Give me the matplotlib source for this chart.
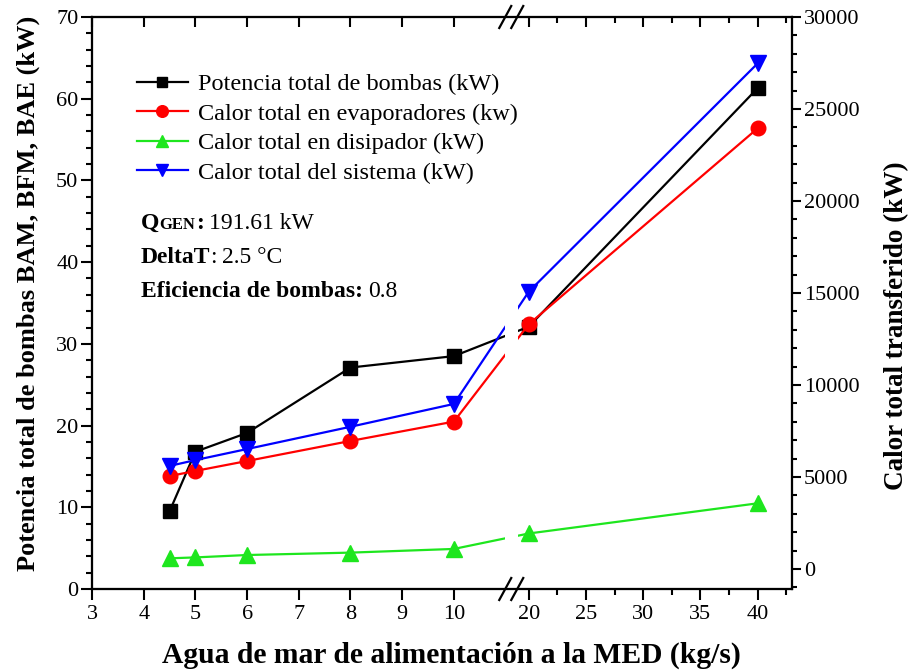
import matplotlib
matplotlib.use("Agg")
import numpy as np
import matplotlib.pyplot as plt
import matplotlib.transforms as mtransforms
from matplotlib.scale import FuncScale
from matplotlib.ticker import FixedLocator, MultipleLocator, NullFormatter
from matplotlib.patches import Rectangle

plt.rcParams["font.family"] = ["Liberation Serif", "DejaVu Serif"]

# ---- data -------------------------------------------------------------
flow = [4.5, 5, 6, 8, 10, 20, 40]                       # kg/s
pump_power = [9.5, 16.8, 19.1, 27.1, 28.5, 32.1, 61.3]  # kW (left axis)
heat_evap = [5050, 5330, 5870, 6960, 8010, 13300, 23950]  # kW (right axis)
heat_sink = [580, 630, 760, 890, 1090, 1930, 3570]
heat_total = [5600, 5920, 6520, 7730, 8970, 15070, 27480]

series_labels = ["Potencia total de bombas (kW)",
                 "Calor total en evaporadores (kw)",
                 "Calor total en disipador (kW)",
                 "Calor total del sistema (kW)"]

xticks_left = [3, 4, 5, 6, 7, 8, 9, 10]
xticks_right = [20, 25, 30, 35, 40]
xminor_right = [22.5, 27.5, 32.5, 37.5, 42.5]

# ---- broken x scale ----------------------------------------------------
XB1, XB2 = 11.11, 18.47     # end of first segment / start of second
R = 0.2214                  # compression of the second segment
XMIN, XMAX = 3, 43


def fwd(x):
    x = np.asarray(x, dtype=float)
    return np.where(x <= XB1, x,
                    np.where(x >= XB2, XB1 + (x - XB2) * R, XB1))


def inv(u):
    u = np.asarray(u, dtype=float)
    return np.where(u <= XB1, u, XB2 + (u - XB1) / R)


W, H = 911, 671
fig = plt.figure(figsize=(W / 100, H / 100), dpi=100)
L, Rt, T, B = 92, 792, 17, 589
ax = fig.add_axes([L / W, 1 - B / H, (Rt - L) / W, (B - T) / H])
ax.set_xscale(FuncScale(ax, (fwd, inv)))
ax.set_xlim(XMIN, XMAX)

ax2 = ax.twinx()
axtop = ax.twiny()
axtop.set_xscale(FuncScale(axtop, (fwd, inv)))
axtop.set_xlim(XMIN, XMAX)

lw = 1.6
black, red, green, blue = "#000000", "#ff0000", "#1ee61e", "#0000ff"

h1, = ax.plot(flow, pump_power, color=black, lw=lw, marker="s", ms=9.5,
              mec=black, mfc=black)
h2, = ax2.plot(flow, heat_evap, color=red, lw=lw, marker="o", ms=10.5,
               mec=red, mfc=red)
h3, = ax2.plot(flow, heat_sink, color=green, lw=lw, marker="^", ms=11,
               mec=green, mfc=green)
h4, = ax2.plot(flow, heat_total, color=blue, lw=lw, marker="v", ms=11,
               mec=blue, mfc=blue)

ax.set_ylim(0, 70)
ax2.set_ylim(-1087, 30000)

# ticks
for a in (ax, ax2, axtop):
    for s in a.spines.values():
        s.set_linewidth(1.5)

ax.xaxis.set_major_locator(FixedLocator(xticks_left + xticks_right))
ax.xaxis.set_minor_locator(FixedLocator(xminor_right))
ax.xaxis.set_minor_formatter(NullFormatter())
ax.set_xticklabels([str(v) for v in xticks_left + xticks_right])
axtop.xaxis.set_major_locator(FixedLocator(xticks_left + xticks_right))
axtop.xaxis.set_minor_locator(FixedLocator(xminor_right))
axtop.xaxis.set_major_formatter(NullFormatter())
axtop.xaxis.set_minor_formatter(NullFormatter())

ax.yaxis.set_major_locator(MultipleLocator(10))
ax.yaxis.set_minor_locator(MultipleLocator(2))
ax2.yaxis.set_major_locator(FixedLocator([0, 5000, 10000, 15000, 20000, 25000, 30000]))
ax2.yaxis.set_minor_locator(FixedLocator(list(range(-1000, 30001, 1000))))

tick_fs = 16
ax.tick_params(axis="both", which="both", direction="out", width=1.5,
               labelsize=tick_fs)
ax.tick_params(axis="x", pad=4)
ax.tick_params(axis="y", pad=2)
ax.tick_params(axis="both", which="major", length=7.8)
ax.tick_params(axis="both", which="minor", length=4)
ax2.tick_params(axis="y", which="both", direction="out", width=1.5,
                labelsize=tick_fs, pad=2)
ax2.tick_params(axis="y", which="major", length=6.5)
ax2.tick_params(axis="y", which="minor", length=3.5)
axtop.tick_params(axis="x", which="both", direction="in", width=1.5,
                  top=True, bottom=False, labeltop=False, labelbottom=False)
axtop.tick_params(axis="x", which="major", length=7.5)
axtop.tick_params(axis="x", which="minor", length=4.5)

# axis labels
ax.set_xlabel("Agua de mar de alimentación a la MED (kg/s)",
              fontsize=21.3, fontweight="bold")
ax.xaxis.set_label_coords(0.514, -0.092)
ax.set_ylabel("Potencia total de bombas BAM, BFM, BAE (kW)",
              fontsize=19, fontweight="bold")
ax.yaxis.set_label_coords(-0.074, 0.516)
ax2.set_ylabel("Calor total transferido (kW)", fontsize=19.5,
               fontweight="bold")
ax2.yaxis.set_label_coords(1.131, 0.46)

# gap in the curves at the axis break
ax_w = Rt - L
brk_frac = (fwd(XB1) - XMIN) / (fwd(XMAX) - XMIN)
gap_px = 6.5
ax2.add_patch(Rectangle((brk_frac - gap_px / ax_w, 0.004), 2 * gap_px / ax_w,
                        0.992, transform=ax2.transAxes, facecolor="white",
                        edgecolor="none", zorder=3))

# break marks on top and bottom axis lines
ax_h = B - T
for yb in (0.0, 1.0):
    for dx in (-6.0, 6.0):
        xs = [brk_frac + (dx - 6) / ax_w, brk_frac + (dx + 6) / ax_w]
        ys = [yb - 11 / ax_h, yb + 11 / ax_h]
        axtop.plot(xs, ys, color="black", lw=1.6, transform=axtop.transAxes,
                   clip_on=False, zorder=10)

# legend
leg = ax2.legend([h1, h2, h3, h4], series_labels, loc="upper left",
                 bbox_to_anchor=(0.064, 0.902), frameon=False, fontsize=17.5,
                 handlelength=2.1, handletextpad=0.4, labelspacing=0.31,
                 borderaxespad=0, borderpad=0, markerscale=0.8)

# parameter notes with mixed weights
renderer = fig.canvas.get_renderer()


def rich_line(x, y, parts):
    off = 0.0
    for txt, weight, size, gap in parts:
        off += gap
        tr = mtransforms.offset_copy(ax2.transAxes, x=off, y=0, units="dots")
        t = ax2.text(x, y, txt, transform=tr, fontsize=size,
                     fontweight=weight, ha="left", va="baseline")
        off += t.get_window_extent(renderer).width


nx = (141 - L) / ax_w
rich_line(nx, (B - 229) / ax_h, [("Q", "bold", 17, 0), ("GEN", "bold", 12, 0),
                                 (":", "bold", 17, 0.5),
                                 ("191.61 kW", "normal", 17, 5)])
rich_line(nx, (B - 263) / ax_h, [("DeltaT", "bold", 17, 0),
                                 (":", "normal", 17, 0),
                                 ("2.5 °C", "normal", 17, 5)])
rich_line(nx, (B - 297) / ax_h, [("Eficiencia de bombas:", "bold", 17, 0),
                                 ("0.8", "normal", 17, 5)])

fig.savefig("out.png", dpi=100)
